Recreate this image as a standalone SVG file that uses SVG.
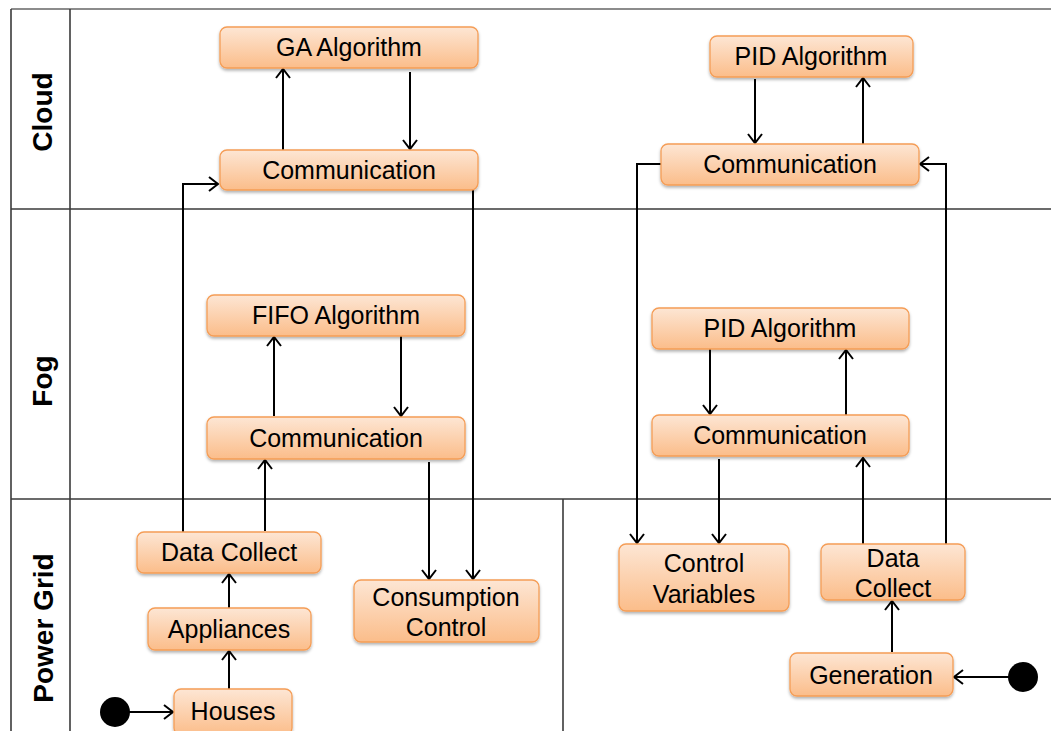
<svg xmlns="http://www.w3.org/2000/svg" width="1051" height="731" viewBox="0 0 1051 731">
<style>
.lane{stroke:#3a3a3a;stroke-width:1.6;fill:none}
.box{fill:url(#g);stroke:#f59d56;stroke-width:1.3;filter:url(#sh)}
.t{font-family:"Liberation Sans",Arial,sans-serif;font-size:25px;fill:#000;text-anchor:middle}
.lbl{font-family:"Liberation Sans",Arial,sans-serif;font-size:28px;font-weight:bold;fill:#000;text-anchor:middle}
.c{stroke:#000;stroke-width:2;fill:none;marker-end:url(#ah)}
.cn{stroke:#000;stroke-width:2;fill:none}
</style>
<defs>
<linearGradient id="g" x1="0" y1="0" x2="0" y2="1">
<stop offset="0" stop-color="#fde6d4"/>
<stop offset="1" stop-color="#fbbd8a"/>
</linearGradient>
<filter id="sh" x="-10%" y="-20%" width="120%" height="150%">
<feDropShadow dx="0" dy="2" stdDeviation="1.5" flood-color="#000" flood-opacity="0.3"/>
</filter>
<marker id="ah" viewBox="-11 -9 13 18" refX="0" refY="0" markerWidth="13" markerHeight="18" markerUnits="userSpaceOnUse" orient="auto">
<path d="M-9,-7 L0,0 L-9,7" fill="none" stroke="#000" stroke-width="2"/>
</marker>
</defs>
<rect width="1051" height="731" fill="#fff"/>
<g id="lanes">
<line class="lane" x1="11" y1="9" x2="1051" y2="9" style="stroke:#666"/>
<line class="lane" x1="11" y1="9" x2="11" y2="731"/>
<line class="lane" x1="70" y1="9" x2="70" y2="731"/>
<line class="lane" x1="11" y1="209" x2="1051" y2="209"/>
<line class="lane" x1="11" y1="499" x2="1051" y2="499"/>
<line class="lane" x1="563" y1="499" x2="563" y2="731"/>
<text class="lbl" transform="translate(52,112) rotate(-90)">Cloud</text>
<text class="lbl" transform="translate(52,381) rotate(-90)">Fog</text>
<text class="lbl" transform="translate(53,628) rotate(-90)">Power Grid</text>
</g>
<g id="connectors">
<line class="c" x1="283" y1="150" x2="283" y2="69"/>
<line class="c" x1="410" y1="72" x2="410" y2="149"/>
<polyline class="c" points="183,532 183,184 218,184"/>
<line class="c" x1="473" y1="190" x2="473" y2="579"/>
<line class="c" x1="274" y1="416" x2="274" y2="337"/>
<line class="c" x1="401" y1="336" x2="401" y2="416"/>
<line class="c" x1="265" y1="531" x2="265" y2="460"/>
<line class="c" x1="429" y1="462" x2="429" y2="579"/>
<line class="c" x1="229" y1="689" x2="229" y2="651"/>
<line class="c" x1="229" y1="608" x2="229" y2="574"/>
<line class="c" x1="125" y1="712" x2="173" y2="712"/>
<circle cx="115" cy="712" r="15" fill="#000"/>
<line class="c" x1="755" y1="79" x2="755" y2="143"/>
<line class="c" x1="863" y1="144" x2="863" y2="78"/>
<polyline class="c" points="661,164 637,164 637,543"/>
<polyline class="c" points="946,544 946,164 920,164"/>
<line class="c" x1="710" y1="349" x2="710" y2="414"/>
<line class="c" x1="846" y1="415" x2="846" y2="350"/>
<line class="c" x1="719" y1="459" x2="719" y2="543"/>
<line class="c" x1="863" y1="544" x2="863" y2="458"/>
<line class="c" x1="892" y1="652" x2="892" y2="601"/>
<line class="c" x1="1013" y1="677" x2="954" y2="677"/>
<circle cx="1023" cy="677" r="15" fill="#000"/>
</g>
<g id="n-ga"><rect class="box" x="220" y="27" width="258" height="41" rx="7"/><text class="t" x="349" y="56">GA Algorithm</text></g>
<g id="n-comm-cloud-l"><rect class="box" x="220" y="150" width="258" height="40" rx="7"/><text class="t" x="349" y="179">Communication</text></g>
<g id="n-pid-cloud"><rect class="box" x="710" y="36" width="203" height="41" rx="7"/><text class="t" x="811" y="65">PID Algorithm</text></g>
<g id="n-comm-cloud-r"><rect class="box" x="661" y="144" width="258" height="41" rx="7"/><text class="t" x="790" y="173">Communication</text></g>
<g id="n-fifo"><rect class="box" x="207" y="295" width="258" height="41" rx="7"/><text class="t" x="336" y="324">FIFO Algorithm</text></g>
<g id="n-comm-fog-l"><rect class="box" x="207" y="417" width="258" height="42" rx="7"/><text class="t" x="336" y="447">Communication</text></g>
<g id="n-pid-fog"><rect class="box" x="652" y="308" width="257" height="41" rx="7"/><text class="t" x="780" y="337">PID Algorithm</text></g>
<g id="n-comm-fog-r"><rect class="box" x="652" y="415" width="257" height="41" rx="7"/><text class="t" x="780" y="444">Communication</text></g>
<g id="n-datacollect-l"><rect class="box" x="137" y="532" width="184" height="41" rx="7"/><text class="t" x="229" y="561">Data Collect</text></g>
<g id="n-appliances"><rect class="box" x="148" y="608" width="163" height="42" rx="7"/><text class="t" x="229" y="638">Appliances</text></g>
<g id="n-houses"><rect class="box" x="174" y="689" width="118" height="46" rx="7"/><text class="t" x="233" y="720">Houses</text></g>
<g id="n-consumption"><rect class="box" x="354" y="580" width="185" height="62" rx="7"/><text class="t" x="446" y="606">Consumption</text><text class="t" x="446" y="636">Control</text></g>
<g id="n-control-vars"><rect class="box" x="619" y="544" width="170" height="67" rx="7"/><text class="t" x="704" y="572">Control</text><text class="t" x="704" y="603">Variables</text></g>
<g id="n-datacollect-r"><rect class="box" x="821" y="544" width="144" height="56" rx="7"/><text class="t" x="893" y="567">Data</text><text class="t" x="893" y="597">Collect</text></g>
<g id="n-generation"><rect class="box" x="790" y="653" width="163" height="43" rx="7"/><text class="t" x="871" y="684">Generation</text></g>
</svg>
